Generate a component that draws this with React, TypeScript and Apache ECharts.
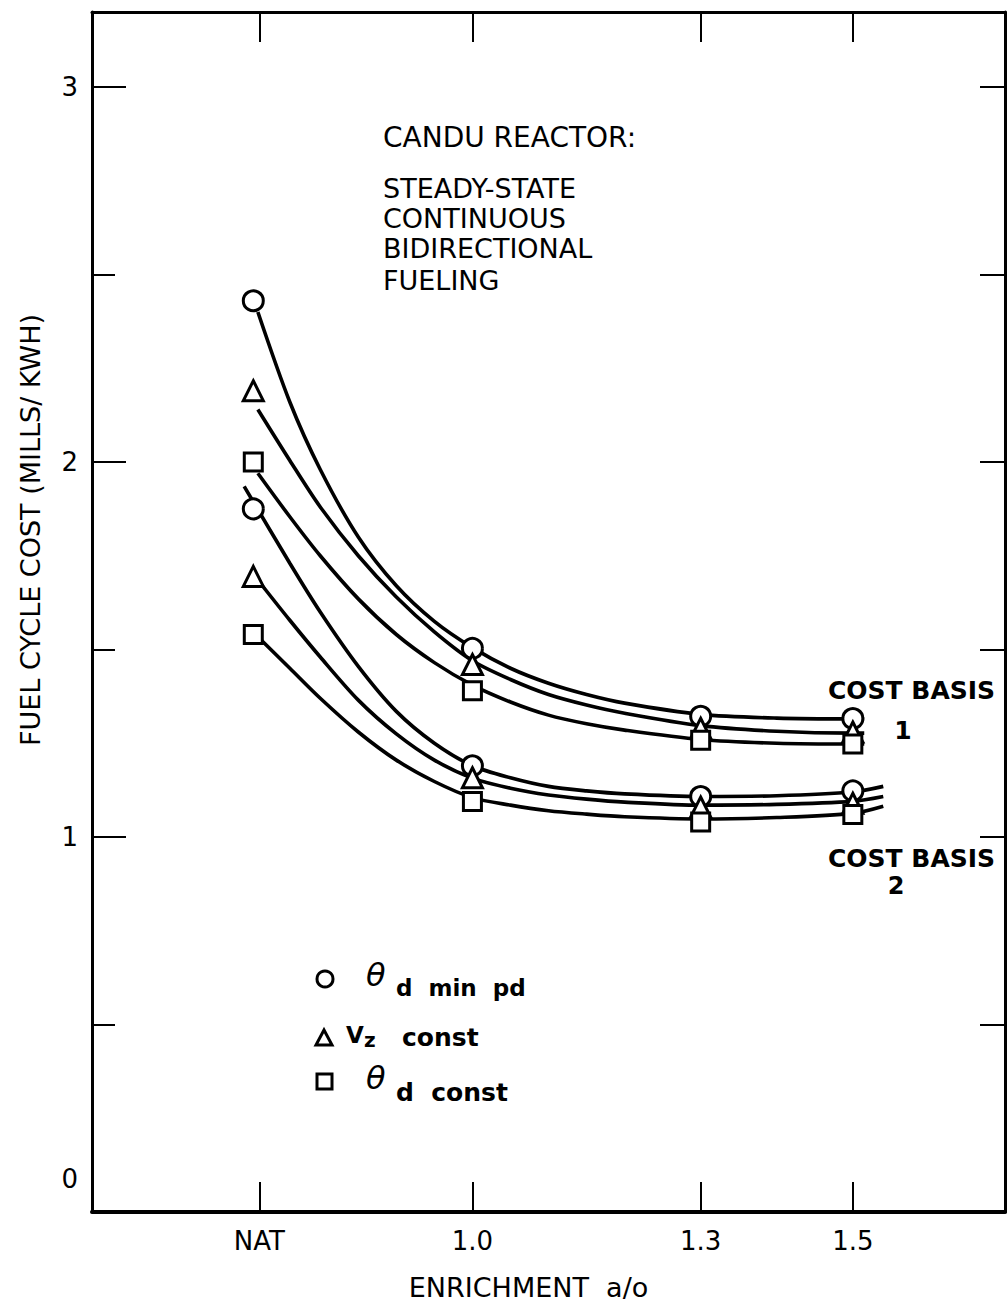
import React, { useEffect, useRef } from 'react';
import * as echarts from 'echarts';

// ---- axis ticks / labels ----
const xTickValues = [0.72, 1.0, 1.3, 1.5];
const xTickLabels = ['NAT', '1.0', '1.3', '1.5'];
const yLabelValues = [0, 1, 2, 3];
const yMajorTickValues = [1, 2, 3];
const yMinorTickValues = [0.5, 1.5, 2.5];
const yRightTickValues = [0.5, 1, 1.5, 2, 2.5, 3];

// ---- measured points (markers) ----
const markerX = [0.712, 1.0, 1.3, 1.5];
const basis1Circle = [2.43, 1.503, 1.322, 1.316];
const basis1Triangle = [2.19, 1.46, 1.29, 1.28];
const basis1Square = [2.0, 1.39, 1.258, 1.248];
const basis2Circle = [1.875, 1.19, 1.108, 1.123];
const basis2Triangle = [1.695, 1.158, 1.08, 1.09];
const basis2Square = [1.54, 1.095, 1.04, 1.06];

// ---- fitted curves ----
const curveX1 = [0.718, 0.76, 0.8, 0.85, 0.9, 0.95, 1.0, 1.05, 1.1, 1.15, 1.2, 1.3, 1.4, 1.5, 1.515];
const curve1Circle = [2.4, 2.16, 1.98, 1.8, 1.67, 1.575, 1.505, 1.45, 1.41, 1.38, 1.357, 1.327, 1.317, 1.315, 1.315];
const curve1Triangle = [2.14, 2.004, 1.88, 1.75, 1.64, 1.547, 1.47, 1.42, 1.38, 1.352, 1.33, 1.297, 1.282, 1.277, 1.277];
const curve1Square = [1.97, 1.854, 1.75, 1.635, 1.54, 1.465, 1.405, 1.36, 1.325, 1.302, 1.285, 1.26, 1.25, 1.248, 1.248];

const curveX2Circle = [0.7, 0.76, 0.8, 0.85, 0.9, 0.95, 1.0, 1.05, 1.1, 1.15, 1.2, 1.3, 1.4, 1.5, 1.54];
const curve2Circle = [1.935, 1.73, 1.6, 1.455, 1.335, 1.25, 1.19, 1.158, 1.135, 1.123, 1.115, 1.108, 1.11, 1.12, 1.135];
const curveX2 = [0.72, 0.76, 0.8, 0.85, 0.9, 0.95, 1.0, 1.05, 1.1, 1.15, 1.2, 1.3, 1.4, 1.5, 1.54];
const curve2Triangle = [1.68, 1.578, 1.48, 1.365, 1.275, 1.205, 1.157, 1.13, 1.112, 1.101, 1.093, 1.085, 1.087, 1.095, 1.108];
const curve2Square = [1.53, 1.45, 1.37, 1.28, 1.205, 1.148, 1.105, 1.085, 1.07, 1.061, 1.054, 1.048, 1.052, 1.063, 1.082];

const FONT = 'DejaVu Sans';

const zip = (xs: number[], ys: number[]) => ys.map((y, i) => [xs[i], y]);

export default function App() {
  const ref = useRef<HTMLDivElement>(null);

  useEffect(() => {
    if (!ref.current) return;
    const chart = echarts.init(ref.current, null, { renderer: 'svg' });

    const curve = (name: string, xs: number[], ys: number[]) => ({
      type: 'line',
      name,
      data: zip(xs, ys),
      smooth: 0.3,
      showSymbol: false,
      symbol: 'none',
      lineStyle: { color: '#000', width: 3.6 },
      z: 2,
      silent: true,
    });
    const marks = (name: string, symbol: string, size: number, ys: number[], z: number) => ({
      type: 'scatter',
      name,
      data: zip(markerX, ys),
      symbol,
      symbolSize: size,
      itemStyle: { color: '#fff', borderColor: '#000', borderWidth: 3, opacity: 1 },
      z,
    });

    const axisText = { color: '#000', fontFamily: FONT, fontSize: 26 };
    const t = (text: string, x: number, y: number, fontSize: number, extra: any = {}) => ({
      type: 'text',
      x,
      y,
      style: { text, fontSize, fontFamily: FONT, fill: '#000', verticalAlign: 'middle', ...extra },
    });

    chart.setOption({
      animation: false,
      backgroundColor: '#fff',
      grid: { left: 92, right: 3, top: 12, bottom: 93, containLabel: false },
      xAxis: [
        {
          type: 'value',
          position: 'bottom',
          min: 0.5,
          max: 1.7,
          name: 'ENRICHMENT  a/o',
          nameLocation: 'middle',
          nameGap: 62,
          nameTextStyle: { ...axisText, fontSize: 27, padding: [0, 40, 0, 0] },
          axisLine: { onZero: false, lineStyle: { color: '#000', width: 4 } },
          axisTick: { inside: true, length: 30, customValues: xTickValues, lineStyle: { color: '#000', width: 2 } },
          axisLabel: {
            ...axisText,
            margin: 16,
            customValues: xTickValues,
            formatter: (v: number) => {
              const i = xTickValues.findIndex((tv) => Math.abs(tv - v) < 1e-6);
              return i >= 0 ? xTickLabels[i] : '';
            },
          },
          splitLine: { show: false },
        },
        {
          type: 'value',
          position: 'top',
          min: 0.5,
          max: 1.7,
          axisLine: { onZero: false, lineStyle: { color: '#000', width: 3 } },
          axisTick: { inside: true, length: 30, customValues: xTickValues, lineStyle: { color: '#000', width: 2 } },
          axisLabel: { show: false },
          splitLine: { show: false },
        },
      ],
      yAxis: [
        {
          type: 'value',
          position: 'left',
          min: 0,
          max: 3.2,
          name: 'FUEL CYCLE COST (MILLS/ KWH)',
          nameLocation: 'middle',
          nameGap: 48,
          nameRotate: 90,
          nameTextStyle: { ...axisText, fontSize: 27, padding: [0, 0, 0, 164] },
          axisLine: { onZero: false, lineStyle: { color: '#000', width: 3 } },
          axisTick: { inside: true, length: 34, customValues: yMajorTickValues, lineStyle: { color: '#000', width: 2 } },
          axisLabel: {
            ...axisText,
            margin: 14,
            customValues: yLabelValues,
            formatter: (v: number) => (v === 0 ? '{z|0}' : String(v)),
            rich: { z: { ...axisText, padding: [0, 0, 66, 0] } },
          },
          splitLine: { show: false },
        },
        {
          type: 'value',
          position: 'left',
          min: 0,
          max: 3.2,
          axisLine: { show: false, onZero: false },
          axisTick: { inside: true, length: 23, customValues: yMinorTickValues, lineStyle: { color: '#000', width: 2 } },
          axisLabel: { show: false },
          splitLine: { show: false },
        },
        {
          type: 'value',
          position: 'right',
          min: 0,
          max: 3.2,
          axisLine: { show: true, onZero: false, lineStyle: { color: '#000', width: 3 } },
          axisTick: { inside: true, length: 25, customValues: yRightTickValues, lineStyle: { color: '#000', width: 2 } },
          axisLabel: { show: false },
          splitLine: { show: false },
        },
      ],
      series: [
        curve('Basis 1 θd min pd curve', curveX1, curve1Circle),
        curve('Basis 1 Vz const curve', curveX1, curve1Triangle),
        curve('Basis 1 θd const curve', curveX1, curve1Square),
        curve('Basis 2 θd min pd curve', curveX2Circle, curve2Circle),
        curve('Basis 2 Vz const curve', curveX2, curve2Triangle),
        curve('Basis 2 θd const curve', curveX2, curve2Square),
        marks('θd min pd (basis 1)', 'circle', 20, basis1Circle, 5),
        marks('θd min pd (basis 2)', 'circle', 20, basis2Circle, 5),
        marks('Vz const (basis 1)', 'triangle', 20, basis1Triangle, 6),
        marks('Vz const (basis 2)', 'triangle', 20, basis2Triangle, 6),
        marks('θd const (basis 1)', 'rect', 18, basis1Square, 7),
        marks('θd const (basis 2)', 'rect', 18, basis2Square, 7),
      ],
      graphic: [
        t('CANDU REACTOR:', 383, 137, 28),
        t('STEADY-STATE', 383, 188, 27),
        t('CONTINUOUS', 383, 218, 27),
        t('BIDIRECTIONAL', 383, 248, 27),
        t('FUELING', 383, 280, 27),

        t('COST BASIS', 828, 690, 25, { fontWeight: 'bold' }),
        t('1', 903, 730, 25, { fontWeight: 'bold', align: 'center' }),
        t('COST BASIS', 828, 858, 25, { fontWeight: 'bold' }),
        t('2', 896, 886, 24, { fontWeight: 'bold', align: 'center' }),

        // legend
        { type: 'circle', shape: { cx: 325, cy: 979, r: 8 }, style: { fill: '#fff', stroke: '#000', lineWidth: 3 } },
        t('θ', 366, 975, 32, { fontStyle: 'italic' }),
        t('d  min  pd', 396, 988, 23, { fontWeight: 'bold' }),

        { type: 'polygon', shape: { points: [[316, 1045], [332, 1045], [324, 1030]] }, style: { fill: '#fff', stroke: '#000', lineWidth: 3 } },
        t('V', 346, 1035, 23, { fontWeight: 'bold' }),
        t('z', 364, 1040, 20, { fontWeight: 'bold' }),
        t('const', 402, 1037, 25, { fontWeight: 'bold' }),

        { type: 'rect', shape: { x: 317, y: 1074, width: 15, height: 15 }, style: { fill: '#fff', stroke: '#000', lineWidth: 3 } },
        t('θ', 366, 1078, 32, { fontStyle: 'italic' }),
        t('d  const', 396, 1092, 25, { fontWeight: 'bold' }),
      ],
    });

    return () => chart.dispose();
  }, []);

  return (
    <div
      ref={ref}
      style={{ position: 'absolute', left: 0, top: 0, width: 1008, height: 1306, background: '#fff' }}
    />
  );
}
